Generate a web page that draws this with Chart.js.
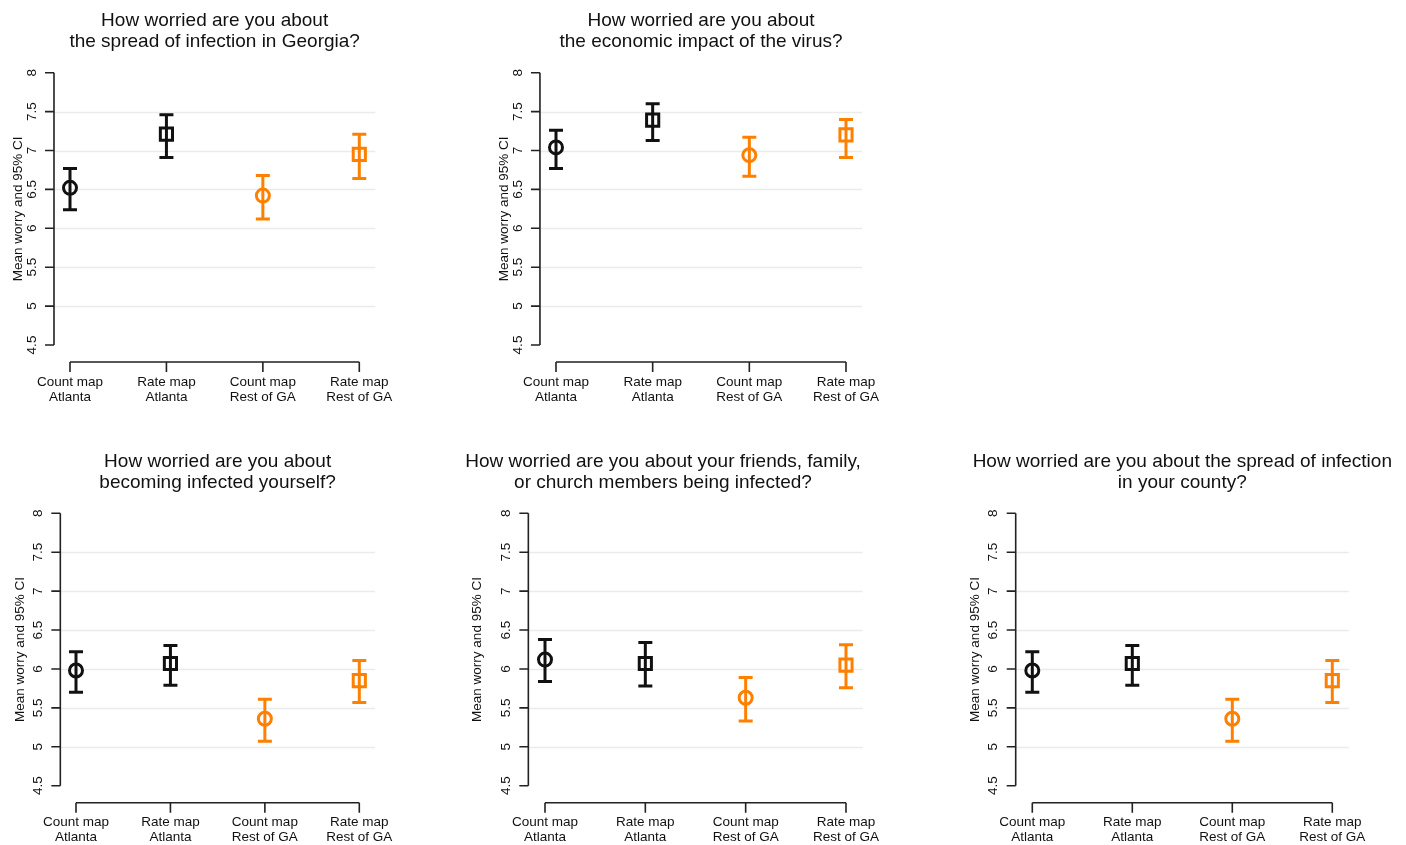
<!DOCTYPE html>
<html>
<head>
<meta charset="utf-8">
<title>How worried are you</title>
<script src="https://cdn.jsdelivr.net/npm/chart.js@4.4.1/dist/chart.umd.min.js"></script>
<style>
  body { margin: 0; background: #fff; width: 1406px; height: 845px; position: relative; overflow: hidden; }
  canvas { position: absolute; }
</style>
</head>
<body>
<canvas id="chart_1"></canvas>
<canvas id="chart_2"></canvas>
<canvas id="chart_3"></canvas>
<canvas id="chart_4"></canvas>
<canvas id="chart_5"></canvas>
<script>
const groups = [
  ['Count map', 'Atlanta'],
  ['Rate map', 'Atlanta'],
  ['Count map', 'Rest of GA'],
  ['Rate map', 'Rest of GA'],
];
const groupX = [1, 2, 3, 4];
const yTicks = [4.5, 5, 5.5, 6, 6.5, 7, 7.5, 8];
const yTitle = 'Mean worry and 95% CI';

// spread of infection in Georgia
const georgiaTitle = ['How worried are you about', 'the spread of infection in Georgia?'];
const georgiaMean = [6.52, 7.21, 6.42, 6.95];
const georgiaLow = [6.24, 6.91, 6.12, 6.64];
const georgiaHigh = [6.77, 7.46, 6.68, 7.21];

// economic impact
const economyTitle = ['How worried are you about', 'the economic impact of the virus?'];
const economyMean = [7.04, 7.39, 6.94, 7.2];
const economyLow = [6.77, 7.13, 6.67, 6.91];
const economyHigh = [7.26, 7.6, 7.17, 7.4];

// becoming infected yourself
const selfTitle = ['How worried are you about', 'becoming infected yourself?'];
const selfMean = [5.98, 6.07, 5.36, 5.85];
const selfLow = [5.7, 5.79, 5.07, 5.57];
const selfHigh = [6.22, 6.3, 5.61, 6.11];

// friends, family, church members
const friendsTitle = ['How worried are you about your friends, family,', 'or church members being infected?'];
const friendsMean = [6.12, 6.07, 5.63, 6.05];
const friendsLow = [5.84, 5.78, 5.33, 5.76];
const friendsHigh = [6.38, 6.34, 5.89, 6.31];

// spread in your county
const countyTitle = ['How worried are you about the spread of infection', 'in your county?'];
const countyMean = [5.98, 6.07, 5.36, 5.85];
const countyLow = [5.7, 5.79, 5.07, 5.57];
const countyHigh = [6.22, 6.3, 5.61, 6.11];

const black = '#111111';
const orange = '#ff8000';
const groupColors = [black, black, orange, orange];
const groupShapes = ['circle', 'rect', 'circle', 'rect'];
const groupSizes = [6.5, 8.6, 6.5, 8.6];
const font = "'Liberation Sans', Arial, Helvetica, sans-serif";
const pad = 0.166;

const rStyle = {
  id: 'rStyle',
  beforeDatasetsDraw(chart) {
    const ctx = chart.ctx;
    const xs = chart.scales.x;
    const ys = chart.scales.y;
    const area = chart.chartArea;
    const p = chart.options.plugins.rStyle;

    ctx.save();
    // grid
    ctx.strokeStyle = '#ebebeb';
    ctx.lineWidth = 1.5;
    yTicks.slice(1, -1).forEach(function (v) {
      const y = Math.round(ys.getPixelForValue(v)) + 0.5;
      ctx.beginPath();
      ctx.moveTo(area.left, y);
      ctx.lineTo(area.right, y);
      ctx.stroke();
    });

    // error bars
    ctx.lineWidth = 3;
    ctx.lineCap = 'butt';
    for (let i = 0; i < groupX.length; i++) {
      const x = xs.getPixelForValue(groupX[i]);
      const yl = ys.getPixelForValue(p.low[i]);
      const yh = ys.getPixelForValue(p.high[i]);
      ctx.strokeStyle = groupColors[i];
      ctx.beginPath();
      ctx.moveTo(x, yl);
      ctx.lineTo(x, yh);
      ctx.moveTo(x - 7, yl);
      ctx.lineTo(x + 7, yl);
      ctx.moveTo(x - 7, yh);
      ctx.lineTo(x + 7, yh);
      ctx.stroke();
    }
    ctx.restore();
  },
  afterDraw(chart) {
    const ctx = chart.ctx;
    const xs = chart.scales.x;
    const ys = chart.scales.y;
    const area = chart.chartArea;
    const p = chart.options.plugins.rStyle;
    const yTop = ys.getPixelForValue(yTicks[yTicks.length - 1]);
    const yBot = ys.getPixelForValue(yTicks[0]);

    ctx.save();
    ctx.strokeStyle = '#222';
    ctx.fillStyle = '#111';
    ctx.lineWidth = 1.6;

    // y axis
    ctx.beginPath();
    ctx.moveTo(area.left, yTop);
    ctx.lineTo(area.left, yBot);
    yTicks.forEach(function (v) {
      const y = ys.getPixelForValue(v);
      ctx.moveTo(area.left, y);
      ctx.lineTo(area.left - 9, y);
    });
    ctx.stroke();

    ctx.font = '13.5px ' + font;
    ctx.textAlign = 'center';
    ctx.textBaseline = 'middle';
    yTicks.forEach(function (v) {
      ctx.save();
      ctx.translate(area.left - 22, ys.getPixelForValue(v));
      ctx.rotate(-Math.PI / 2);
      ctx.fillText(String(v), 0, 0);
      ctx.restore();
    });
    ctx.save();
    ctx.translate(area.left - p.yTitleGap, (yTop + yBot) / 2);
    ctx.rotate(-Math.PI / 2);
    ctx.fillText(yTitle, 0, 0);
    ctx.restore();

    // x axis, set below the plot
    const xa = yBot + 17;
    const x1 = xs.getPixelForValue(groupX[0]);
    const x4 = xs.getPixelForValue(groupX[groupX.length - 1]);
    ctx.beginPath();
    ctx.moveTo(x1, xa);
    ctx.lineTo(x4, xa);
    groupX.forEach(function (v) {
      const x = xs.getPixelForValue(v);
      ctx.moveTo(x, xa);
      ctx.lineTo(x, xa + 10);
    });
    ctx.stroke();
    groupX.forEach(function (v, i) {
      const x = xs.getPixelForValue(v);
      ctx.fillText(groups[i][0], x, yBot + 37);
      ctx.fillText(groups[i][1], x, yBot + 52);
    });

    // title
    ctx.font = '19px ' + font;
    const tx = p.titleX !== null ? p.titleX - chart.canvas.offsetLeft : (area.left + area.right) / 2;
    ctx.fillText(p.title[0], tx, yTop - 52);
    ctx.fillText(p.title[1], tx, yTop - 31);
    ctx.restore();
  },
};

function makeChart(id, box, title, mean, low, high) {
  const cv = document.getElementById(id);
  cv.width = box.width;
  cv.height = box.height;
  cv.style.left = box.left + 'px';
  cv.style.top = box.top + 'px';

  const s = (box.t4 - box.t1) / 3;
  const areaLeft = box.t1 - pad * s;
  const areaRight = box.t4 + pad * s;

  const points = mean.map(function (m, i) {
    return { x: groupX[i], y: m };
  });

  new Chart(cv, {
    type: 'scatter',
    data: {
      datasets: [
        {
          data: points,
          pointStyle: groupShapes,
          pointRadius: groupSizes,
          pointBorderWidth: 3,
          borderColor: groupColors,
          pointBorderColor: groupColors,
          backgroundColor: 'rgba(0,0,0,0)',
          pointBackgroundColor: 'rgba(0,0,0,0)',
        },
      ],
    },
    options: {
      responsive: false,
      animation: false,
      events: [],
      layout: {
        padding: {
          left: areaLeft - box.left,
          right: box.left + box.width - areaRight,
          top: box.y8 - box.top,
          bottom: box.top + box.height - box.y45,
        },
      },
      scales: {
        x: { type: 'linear', display: false, min: 1 - pad, max: 4 + pad },
        y: { type: 'linear', display: false, min: 4.5, max: 8 },
      },
      plugins: {
        legend: { display: false },
        tooltip: { enabled: false },
        rStyle: {
          title: title,
          low: low,
          high: high,
          titleX: box.titleX === undefined ? null : box.titleX,
          yTitleGap: box.yTitleGap,
        },
      },
    },
    plugins: [rStyle],
  });
}

makeChart('chart_1', { left: 0, top: 0, width: 450, height: 420, t1: 70, t4: 359.3, y8: 72.7, y45: 345, yTitleGap: 36 },
  georgiaTitle, georgiaMean, georgiaLow, georgiaHigh);
makeChart('chart_2', { left: 470, top: 0, width: 460, height: 420, t1: 556, t4: 846, y8: 72.7, y45: 345, yTitleGap: 36 },
  economyTitle, economyMean, economyLow, economyHigh);
makeChart('chart_3', { left: 0, top: 440, width: 440, height: 405, t1: 76, t4: 359.3, y8: 513.3, y45: 785.7, yTitleGap: 40 },
  selfTitle, selfMean, selfLow, selfHigh);
makeChart('chart_4', { left: 445, top: 440, width: 490, height: 405, t1: 545, t4: 846, y8: 513.3, y45: 785.7, yTitleGap: 51, titleX: 663 },
  friendsTitle, friendsMean, friendsLow, friendsHigh);
makeChart('chart_5', { left: 940, top: 440, width: 466, height: 405, t1: 1032.3, t4: 1332.3, y8: 513.3, y45: 785.7, yTitleGap: 40 },
  countyTitle, countyMean, countyLow, countyHigh);
</script>
</body>
</html>
